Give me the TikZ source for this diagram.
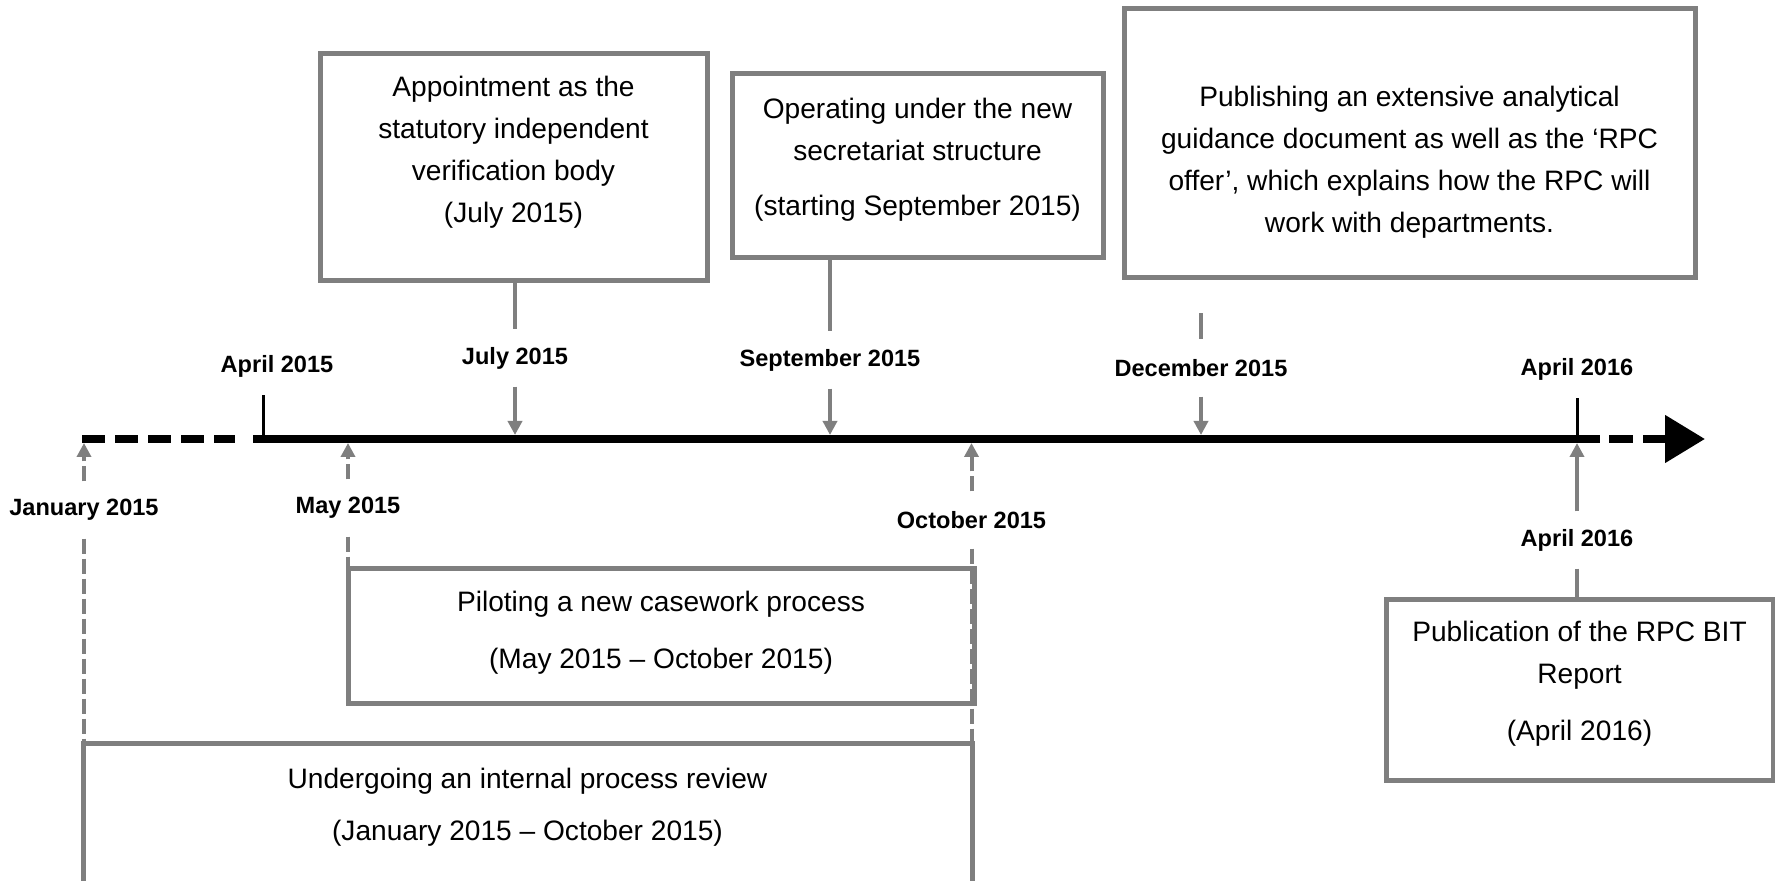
\documentclass[tikz,border=0pt]{standalone}
\usepackage{fontspec}
\setmainfont{Liberation Sans}
\usepackage{tikz}
\usetikzlibrary{arrows.meta,calc}
\definecolor{linegrey}{HTML}{7F7F7F}
% box text: width, height, top pad, lines
\newcommand{\evt}[4]{\parbox[c][#2][t]{#1}{\centering\fontsize{8}{11.95}\selectfont\vspace*{#3}#4}}

\begin{document}
\begin{tikzpicture}[
    box/.style={draw=linegrey, line width=0.05cm, inner sep=0pt},
    lab/.style={font=\bfseries\fontsize{6.7}{8}\selectfont, inner sep=0pt, minimum height=0.56cm},
    tl/.style={line width=0.08cm},
    tickline/.style={line width=0.03cm},
    gline/.style={draw=linegrey, line width=0.04cm},
    garrow/.style={gline, -{Triangle[length=0.14cm,width=0.14cm]}, shorten >=0.04cm},
    gdash/.style={dash pattern=on 0.15cm off 0.05cm}]
    \useasboundingbox (0,-4.42) rectangle (17.75,4.39);

    % timeline
    \draw[tl, dash pattern=on 0.23cm off 0.1cm] (0.82,0) -- (2.35,0);
    \draw[tl] (2.53,0) -- (16.00,0);
    \draw[tl, dash pattern=on 0.24cm off 0.1cm, -{Triangle[length=0.4cm,width=0.46cm]}] (16.09,0) -- (17.05,0);
    \foreach \n/\x in {jan/0.84, apra/2.63, may/3.48, jul/5.15, sep/8.30, oct/9.715, dec/12.01, aprb/15.77}
      \coordinate (t\n) at (\x,0);

    % dates
    \foreach \n/\x/\y/\t in {apra/2.77/0.73/April 2015, jul/5.15/0.81/July 2015,
                             sep/8.30/0.79/September 2015, dec/12.01/0.71/December 2015,
                             aprb/15.77/0.70/April 2016, jan/0.84/-0.71/January 2015,
                             may/3.48/-0.69/May 2015, oct/9.715/-0.81/October 2015,
                             aprc/15.77/-1.01/April 2016}
      \node[lab] (\n) at (\x,\y) {\t};

    % events
    \node[box] (appt) at (5.135,2.715) {\evt{3.87cm}{2.27cm}{0.22cm}{Appointment as the\\ statutory independent\\ verification body\\ (July 2015)}};
    \node[box] (oper) at (9.175,2.73) {\evt{3.71cm}{1.84cm}{0.24cm}{Operating under the new\\ secretariat structure\\[0.13cm] (starting September 2015)}};
    \node[box] (pub) at (14.095,2.955) {\evt{5.71cm}{2.69cm}{0.77cm}{Publishing an extensive analytical\\ guidance document as well as the `RPC\\ offer', which explains how the RPC will\\ work with departments.}};
    \node[box] (pil) at (6.61,-1.975) {\evt{6.26cm}{1.35cm}{0.22cm}{Piloting a new casework process\\[0.15cm] (May 2015 -- October 2015)}};
    \node[box] (pubr) at (15.795,-2.515) {\evt{3.87cm}{1.81cm}{0.21cm}{Publication of the RPC BIT\\ Report\\[0.15cm] (April 2016)}};
    \begin{scope}
      \clip (0,-4.42) rectangle (17.75,4.39);
      \node[box] (und) at (5.275,-3.85) {\evt{8.89cm}{1.6cm}{0.24cm}{Undergoing an internal process review\\[0.1cm] (January 2015 -- October 2015)}};
    \end{scope}

    % ticks and arrows
    \draw[tickline] (tapra) -- (tapra |- apra.south);
    \draw[tickline] (taprb) -- (aprb.south);
    \foreach \n in {jul,sep,dec} \draw[garrow] (\n.south) -- (t\n);
    \foreach \n in {jan,may,oct} \draw[garrow,gdash] (\n.north) -- (t\n);
    \draw[garrow] (aprc.north) -- (taprb);
    \draw[gline] (appt.south -| jul) -- (jul.north);
    \draw[gline] (oper.south -| sep) -- (sep.north);
    \draw[gline, shorten <=0.33cm] (pub.south -| dec) -- (dec.north);
    \draw[gline, gdash] (jan.south) -- (jan.south |- und.north);
    \draw[gline, gdash] (may.south) -- (may.south |- pil.north);
    \draw[gline, gdash] (oct.south) -- (oct.south |- und.north);
    \draw[gline] (aprc.south) -- (aprc.south |- pubr.north);
\end{tikzpicture}
\end{document}
